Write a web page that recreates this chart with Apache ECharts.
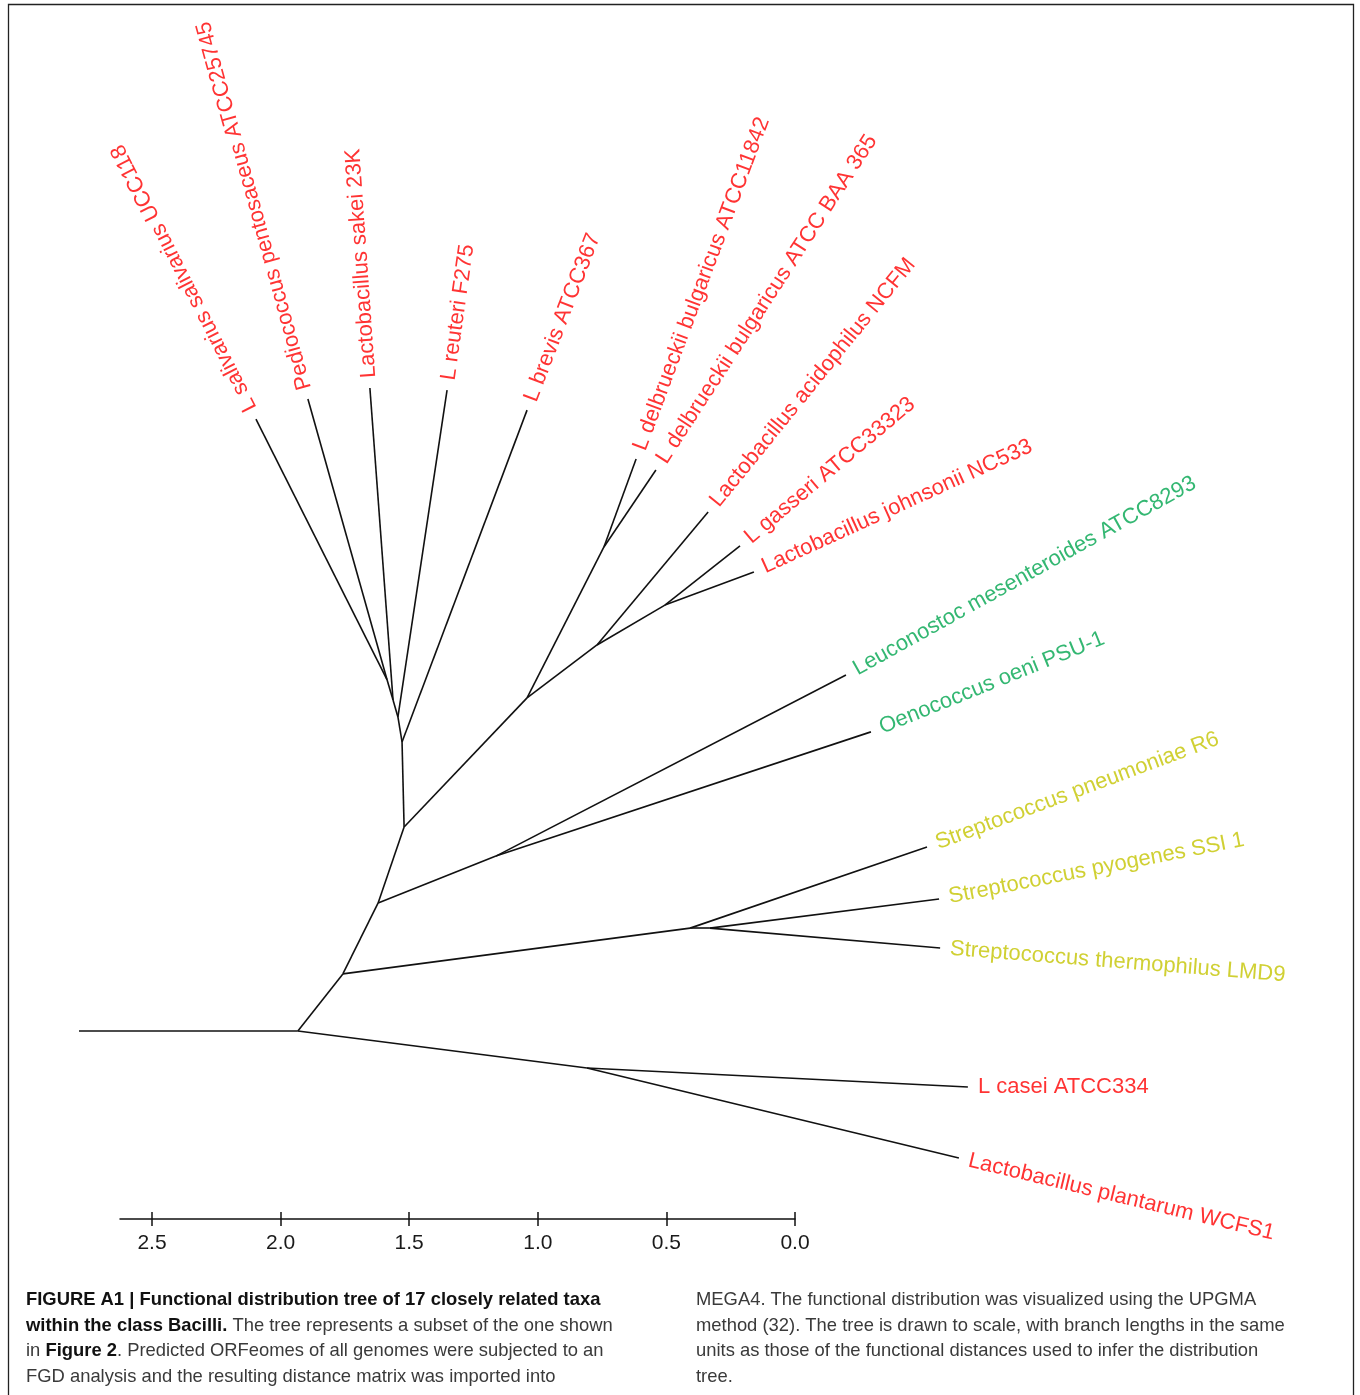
<!DOCTYPE html>
<html>
<head>
<meta charset="utf-8">
<script src="https://cdn.jsdelivr.net/npm/echarts@6/dist/echarts.min.js"></script>
<style>
html,body{margin:0;padding:0;background:#fff;}
#chart{width:1360px;height:1395px;}
</style>
</head>
<body>
<div id="chart"></div>
<script>
// ---------------- DATA (tree in functional-distance units) ----------------
const taxa = [
  'L salivarius salivarius UCC118',
  'Pediococcus pentosaceus ATCC25745',
  'Lactobacillus sakei 23K',
  'L reuteri F275',
  'L brevis ATCC367',
  'L delbrueckii bulgaricus ATCC11842',
  'L delbrueckii bulgaricus ATCC BAA 365',
  'Lactobacillus acidophilus NCFM',
  'L gasseri ATCC33323',
  'Lactobacillus johnsonii NC533',
  'Leuconostoc mesenteroides ATCC8293',
  'Oenococcus oeni PSU-1',
  'Streptococcus pneumoniae R6',
  'Streptococcus pyogenes SSI 1',
  'Streptococcus thermophilus LMD9',
  'L casei ATCC334',
  'Lactobacillus plantarum WCFS1'
];
const taxaGroup = ['lacto','lacto','lacto','lacto','lacto','lacto','lacto','lacto','lacto','lacto',
                   'leuco','leuco','strep','strep','strep','lacto','lacto'];
const taxaX = [0.688, 0.890, 1.131, 1.431, 1.742, 2.166, 2.243, 2.446, 2.570, 2.624,
               2.982, 3.079, 3.297, 3.344, 3.348, 3.456, 3.421];
const taxaY = [2.379, 2.457, 2.500, 2.492, 2.414, 2.224, 2.181, 2.018, 1.886, 1.785,
               1.384, 1.163, 0.715, 0.513, 0.323, -0.218, -0.494];
const taxaParent = ['F3','F3','F4','F2','F','G1','G1','G2','G3','G3','D','D','S','S2','S2','A','A'];
const labelAngle = [117, 105.5, 94, 82, 69, 69.5, 57, 51, 40, 24.5, 29, 22, 20.5, 11, -4.5, 0, -13.5];

const innerIds    = ['R', 'R0',  'A',    'B',   'S',   'S2',  'C',   'D',   'E',   'F',   'F2',  'F4',  'F3',  'G',   'G1',  'G2',  'G3'];
const innerX      = [0,   0.851, 1.975,  1.026, 2.376, 2.453, 1.163, 1.621, 1.264, 1.256, 1.240, 1.221, 1.198, 1.742, 2.041, 2.014, 2.278];
const innerY      = [0,   0,     -0.144, 0.222, 0.400, 0.400, 0.498, 0.680, 0.793, 1.124, 1.221, 1.287, 1.365, 1.295, 1.882, 1.501, 1.656];
const innerParent = [null,'R',   'R0',   'R0',  'B',   'S',   'B',   'C',   'C',   'E',   'F',   'F2',  'F4',  'E',   'G',   'G',   'G2'];

const scaleTicks = [0, 0.5, 1.0, 1.5, 2.0, 2.5];

const captionLeft = [
  '{b|FIGURE A1 | Functional distribution tree of 17 closely related taxa}',
  '{b|within the class Bacilli.} The tree represents a subset of the one shown',
  'in {b|Figure 2}. Predicted ORFeomes of all genomes were subjected to an',
  'FGD analysis and the resulting distance matrix was imported into'
];
const captionRight = [
  'MEGA4. The functional distribution was visualized using the UPGMA',
  'method (32). The tree is drawn to scale, with branch lengths in the same',
  'units as those of the functional distances used to infer the distribution',
  'tree.'
];

// ---------------- LAYOUT / STYLE ----------------
const W = 1360, H = 1395;
const PX = 257.2;              // pixels per distance unit
const originPx = [79, 1031];   // pixel position of tree origin
const groupColor = { lacto: '#ff0000', leuco: '#00a54f', strep: '#c4c400' };
const FONT = "'Liberation Sans', Arial, Helvetica, sans-serif";
const CAP_SIZE = 18.4;

const pos = {};
innerIds.forEach((id, i) => { pos[id] = [innerX[i], innerY[i]]; });
taxa.forEach((t, i) => { pos['t' + i] = [taxaX[i], taxaY[i]]; });

const edges = [];
innerIds.forEach((id, i) => { if (innerParent[i]) edges.push({ coords: [pos[innerParent[i]], pos[id]] }); });
taxa.forEach((t, i) => { edges.push({ coords: [pos[taxaParent[i]], pos['t' + i]] }); });

const gap = 10;
const leafData = taxa.map((t, i) => {
  const a = labelAngle[i] * Math.PI / 180;
  return {
    name: t,
    value: [taxaX[i], taxaY[i]],
    label: {
      rotate: labelAngle[i],
      color: groupColor[taxaGroup[i]],
      position: [0.5 + gap * Math.cos(a), 0.5 - gap * Math.sin(a)],
      align: 'left',
      verticalAlign: 'middle'
    }
  };
});

const graphics = [
  { type: 'rect', shape: { x: 8.5, y: 4.5, width: 1345, height: 1420 },
    style: { fill: 'none', stroke: '#222', lineWidth: 1.3 }, silent: true }
];
const capY = [1300, 1325.5, 1351, 1376.5];
function capText(lines, x) {
  lines.forEach((s, i) => {
    graphics.push({
      type: 'text', x: x, y: capY[i], silent: true,
      style: {
        text: s, fill: '#3a3a3a', font: CAP_SIZE + 'px ' + FONT, verticalAlign: 'middle', align: 'left',
        rich: { b: { fontWeight: 'bold', fill: '#111', fontSize: CAP_SIZE, fontFamily: FONT } }
      }
    });
  });
}
capText(captionLeft, 26);
capText(captionRight, 696);

const chart = echarts.init(document.getElementById('chart'), null, { renderer: 'canvas', width: W, height: H });
const axisMax = (795 - 120) / PX;

chart.setOption({
  animation: false,
  backgroundColor: '#ffffff',
  grid: [
    { left: 0, top: 0, width: W, height: H, containLabel: false },
    { left: 120, top: 1218, width: 675, height: 1, containLabel: false }
  ],
  xAxis: [
    { gridIndex: 0, type: 'value', show: false, min: -originPx[0] / PX, max: (W - originPx[0]) / PX },
    { gridIndex: 1, type: 'value', position: 'bottom', inverse: true, min: 0, max: axisMax,
      axisLine: { show: true, lineStyle: { color: '#111', width: 1.5 } },
      axisTick: { show: true, length: 7, inside: false, customValues: scaleTicks, lineStyle: { color: '#111', width: 1.5 } },
      axisLabel: { show: true, customValues: scaleTicks, formatter: v => Number(v).toFixed(1), margin: 14,
                   fontSize: 21, color: '#1a1a1a', fontFamily: "'Liberation Sans Narrow', " + FONT },
      splitLine: { show: false } },
    { gridIndex: 1, type: 'value', position: 'bottom', inverse: true, min: 0, max: axisMax,
      axisLine: { show: false },
      axisTick: { show: true, length: 7, inside: true, customValues: scaleTicks, lineStyle: { color: '#111', width: 1.5 } },
      axisLabel: { show: false }, splitLine: { show: false } }
  ],
  yAxis: [
    { gridIndex: 0, type: 'value', show: false, min: (originPx[1] - H) / PX, max: originPx[1] / PX },
    { gridIndex: 1, type: 'value', show: false, min: 0, max: 1 }
  ],
  series: [
    {
      type: 'lines', coordinateSystem: 'cartesian2d', xAxisIndex: 0, yAxisIndex: 0,
      silent: true, polyline: false,
      lineStyle: { color: '#111', width: 1.6, opacity: 1, curveness: 0 },
      data: edges
    },
    {
      type: 'scatter', xAxisIndex: 0, yAxisIndex: 0, silent: true,
      symbolSize: 1, itemStyle: { color: 'rgba(0,0,0,0)' },
      label: { show: true, formatter: '{b}', fontSize: 22, fontFamily: FONT },
      labelLayout: { hideOverlap: false },
      data: leafData
    }
  ],
  graphic: graphics
});
</script>
</body>
</html>
